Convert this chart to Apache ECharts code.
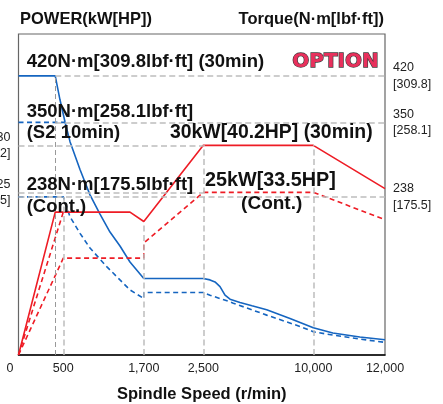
<!DOCTYPE html>
<html>
<head>
<meta charset="utf-8">
<script src="https://cdn.jsdelivr.net/npm/echarts@6/dist/echarts.min.js"></script>
<style>
html, body { margin: 0; padding: 0; background: #fff; }
#chart { width: 443px; height: 404px; }
</style>
</head>
<body>
<div id="chart"></div>
<script>
// speed ticks (r/min) and their labels
const speedTicks = [0, 500, 1700, 2500, 10000, 12000];
const speedTickLabels = ['0', '500', '1,700', '2,500', '10,000', '12,000'];

// torque, 30 min rating (N·m)
const torque30Speed = [0, 410, 463, 525, 600, 749, 898, 1047, 1196, 1345, 1494, 1700, 2500, 2957, 3298, 3639, 3980, 4323, 5002, 5820, 6823, 8412, 10000, 10544, 11297, 12000];
const torque30 = [420, 420, 384, 351, 321, 279, 241, 212, 185, 164, 140, 115, 115, 113, 110, 103, 90, 84, 79, 74, 68, 55, 41, 33, 27, 23];

// torque, S2 10 min (N·m)
const torqueS2Speed = [0, 525];
const torqueS2 = [350, 350];

// torque, continuous (N·m)
const torqueContSpeed = [0, 500, 600, 749, 898, 1147, 1345, 1494, 1700, 1700, 2500, 2957, 4323, 4546, 6823, 9093, 10000, 10544, 11297, 12000];
const torqueCont = [238, 238, 208, 183, 161, 133, 113, 98, 85, 94, 94, 90, 80, 78, 60, 43, 35, 30, 24, 19];

// power, 30 min rating (kW)
const power30Speed = [0, 410, 1494, 1700, 2500, 10000, 12000];
const power30 = [7.7, 22.9, 22.9, 21.9, 30, 30, 25.4];

// power, S2 (kW)
const powerS2Speed = [0, 500];
const powerS2 = [7.7, 22.9];

// power, continuous (kW)
const powerContSpeed = [0, 500, 1700, 1700, 2500, 10000, 12000];
const powerCont = [7.7, 18.0, 18.0, 19.6, 25, 25, 22.1];

// where each speed tick sits, px from the left edge of the plot (the scale is not linear)
const tickSpots = [0, 44.8, 125.3, 184.8, 294.8, 366.5];

function sx (rpm) {
  for (let i = 1; i < speedTicks.length; i++) {
    if (rpm <= speedTicks[i]) {
      const t = (rpm - speedTicks[i - 1]) / (speedTicks[i] - speedTicks[i - 1]);
      return tickSpots[i - 1] + t * (tickSpots[i] - tickSpots[i - 1]);
    }
  }
  return tickSpots[tickSpots.length - 1];
}
const pts = (xs, ys) => xs.map((r, i) => [sx(r), ys[i]]);

const FONT = '"Liberation Sans", Arial, sans-serif';
const RED = '#ee1c25';
const BLUE = '#1565c0';
const GREY = '#bdbdbd';

const refLabel = {
  fontFamily: FONT,
  fontSize: 12.5,
  color: '#222',
  lineHeight: 16.5,
  padding: [16.5, 0, 0, 0], // keeps the first line level with the line
  distance: 8
};

function segment (a, b, text, pos, style) {
  const first = { coord: a };
  first.label = text ? Object.assign({}, refLabel, { show: true, formatter: text, position: pos }) : { show: false };
  if (style) first.lineStyle = style;
  return [first, { coord: b }];
}

function note (x, y, text, size, align) {
  return {
    type: 'text', x: x, y: y, z: 10,
    style: { text: text, font: 'bold ' + size + 'px ' + FONT, fill: '#111', align: align || 'left', verticalAlign: 'middle' }
  };
}

const chart = echarts.init(document.getElementById('chart'));

const option = {
  animation: false,
  grid: {
    left: 18.5, right: 58, top: 34, bottom: 49,
    show: true, borderColor: '#666', borderWidth: 1.2,
    outerBoundsMode: 'none'
  },
  xAxis: {
    type: 'value',
    min: 0,
    max: tickSpots[tickSpots.length - 1],
    splitLine: { show: false },
    axisTick: { show: false },
    axisLine: { lineStyle: { color: '#000', width: 1.5 } },
    axisLabel: {
      customValues: tickSpots,
      margin: 7,
      fontFamily: FONT,
      fontSize: 12.5,
      color: '#222',
      formatter: v => {
        const i = tickSpots.indexOf(v);
        const s = i >= 0 ? speedTickLabels[i] : '';
        return i === 0 ? '{l|' + s + '}' : s;
      },
      rich: { l: { fontFamily: FONT, fontSize: 12.5, color: '#222', padding: [0, 17, 0, 0] } }
    },
    name: 'Spindle Speed (r/min)',
    nameLocation: 'middle',
    nameGap: 31,
    nameTextStyle: { fontFamily: FONT, fontSize: 16.5, fontWeight: 'bold', color: '#111' }
  },
  yAxis: [
    { type: 'value', min: 0, max: 483, show: false },
    { type: 'value', min: 7.7, max: 41.84, show: false }
  ],
  graphic: [
    note(20, 19, 'POWER(kW[HP])', 16.5),
    note(384, 19, 'Torque(N·m[lbf·ft])', 16.5, 'right'),
    note(26.7, 62, '420N·m[309.8lbf·ft] (30min)', 18.5),
    note(26.7, 111.5, '350N·m[258.1lbf·ft]', 18.5),
    note(26.7, 133, '(S2 10min)', 18.5),
    note(170, 133, '30kW[40.2HP] (30min)', 19.4),
    note(26.7, 185, '238N·m[175.5lbf·ft]', 18.5),
    note(26.7, 207, '(Cont.)', 18.5),
    note(205, 181, '25kW[33.5HP]', 19.8),
    note(271.7, 204, '(Cont.)', 19, 'center'),
    { type: 'text', x: 335.5, y: 61.5, z: 10, style: { text: 'OPTION', font: 'bold 20px "DejaVu Sans"', fill: '#e8305c', stroke: '#3a3a3a', lineWidth: 1.3, align: 'center', verticalAlign: 'middle' } }
  ],
  series: [
    {
      type: 'line', yAxisIndex: 0, data: [], z: 1, silent: true,
      markLine: {
        silent: true, symbol: ['none', 'none'], animation: false,
        lineStyle: { color: GREY, type: [6, 3.5], width: 1.5 },
        data: [
          segment([sx(410), 420], [sx(12000), 420], '420\n[309.8]', 'end'),
          segment([sx(410), 350], [sx(12000), 350], '350\n[258.1]', 'end'),
          segment([sx(0), 238], [sx(12000), 238], '238\n[175.5]', 'end'),
          segment([sx(410), 0], [sx(410), 420], null, null, { color: '#999', width: 1, type: [5, 3] }),
          segment([sx(500), 0], [sx(500), 238]),
          segment([sx(1700), 0], [sx(1700), 200]),
          segment([sx(2500), 0], [sx(2500), 316]),
          segment([sx(10000), 0], [sx(10000), 316])
        ]
      }
    },
    {
      type: 'line', yAxisIndex: 1, data: [], z: 1, silent: true,
      markLine: {
        silent: true, symbol: ['none', 'none'], animation: false,
        lineStyle: { color: GREY, type: [6, 3.5], width: 1.5 },
        data: [
          segment([sx(0), 30], [sx(2500), 30], '30\n[40.2]', 'start'),
          segment([sx(0), 25], [sx(2500), 25], '25\n[33.5]', 'start')
        ]
      }
    },
    {
      name: 'Torque 30min', type: 'line', yAxisIndex: 0, z: 3, symbol: 'none',
      lineStyle: { color: BLUE, width: 1.6 },
      data: pts(torque30Speed, torque30)
    },
    {
      name: 'Torque S2', type: 'line', yAxisIndex: 0, z: 3, symbol: 'none',
      lineStyle: { color: BLUE, width: 1.6, type: [5, 3.5] },
      data: pts(torqueS2Speed, torqueS2)
    },
    {
      name: 'Torque Cont.', type: 'line', yAxisIndex: 0, z: 3, symbol: 'none',
      lineStyle: { color: BLUE, width: 1.6, type: [5, 3.5] },
      data: pts(torqueContSpeed, torqueCont)
    },
    {
      name: 'Power 30min', type: 'line', yAxisIndex: 1, z: 3, symbol: 'none',
      lineStyle: { color: RED, width: 1.6 },
      data: pts(power30Speed, power30)
    },
    {
      name: 'Power S2', type: 'line', yAxisIndex: 1, z: 3, symbol: 'none',
      lineStyle: { color: RED, width: 1.6, type: [5, 3.5] },
      data: pts(powerS2Speed, powerS2)
    },
    {
      name: 'Power Cont.', type: 'line', yAxisIndex: 1, z: 3, symbol: 'none',
      lineStyle: { color: RED, width: 1.6, type: [5, 3.5] },
      data: pts(powerContSpeed, powerCont)
    }
  ]
};

chart.setOption(option);
</script>
</body>
</html>
